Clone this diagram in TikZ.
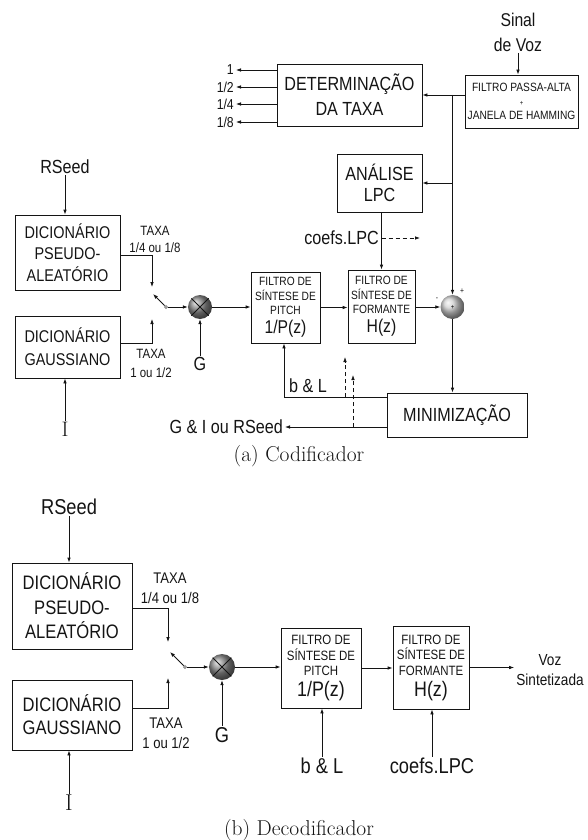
\documentclass[tikz,border=0pt]{standalone}
\usepackage{fontspec}
\usepackage{xcolor}
\usepackage{tikz}
\usetikzlibrary{arrows.meta,positioning,calc}
\newfontfamily\narrowsf{Liberation Sans}[FakeStretch=0.85]
\newcommand\nsz[2]{\narrowsf\fontsize{#1}{#2}\selectfont}
\definecolor{cLine}{HTML}{141414}
\definecolor{cMul}{HTML}{8A8A8A}
\definecolor{cSum}{HTML}{CFCFCF}
\definecolor{cDot}{HTML}{9A9A9A}
\tikzset{
  blk/.style   = {rectangle, draw=cLine, line width=0.8pt, align=center,
                  inner sep=0pt, text=cLine},
  lbl/.style   = {font=\nsz{19}{25}, inner sep=1pt, align=center, text=cLine},
  lblB/.style  = {lbl, font=\nsz{21.5}{27}},
  tx/.style    = {font=\nsz{13.5}{17}, inner sep=1pt, align=center, text=cLine},
  txB/.style   = {tx, font=\nsz{15.4}{20}},
  ilbl/.style  = {font=\fontsize{21}{23}\selectfont, inner sep=1pt, text=cLine},
  captxt/.style = {font=\fontsize{21.5}{24}\selectfont, inner sep=0pt, text=cLine},
  pm/.style    = {font=\nsz{8}{8}, inner sep=0pt, text=cLine},
  fl/.style    = {-{Latex[length=5pt,width=3.6pt]}, draw=cLine, line width=0.8pt},
  flb/.style   = {fl, dash pattern=on 4pt off 3pt},
  ln/.style    = {draw=cLine, line width=0.8pt},
  mul/.style   = {circle, minimum size=24pt, inner sep=0pt, shading=ball, ball color=cMul},
  sumb/.style  = {circle, minimum size=24pt, inner sep=0pt, shading=ball, ball color=cSum,
                  font=\nsz{7}{7}},
  swdot/.style = {circle, fill=cDot, draw=cDot, minimum size=3.5pt, inner sep=0pt},
}
\begin{document}
\begin{tikzpicture}[x=1pt,y=-1pt]
  \useasboundingbox (0,0) rectangle (587,840);

  % ---- (a) coder: rate and LPC analysis ----
  \node[lbl, font=\nsz{18.5}{25}] (sinal) at (518,32.5) {Sinal\\de Voz};
  \node[blk, minimum width=113pt, minimum height=53pt, font=\nsz{12}{14}] (filt) at (521.5,101.5)
    {FILTRO PASSA-ALTA\\{\fontsize{7}{8}\selectfont +}\\JANELA DE HAMMING};
  \node[blk, minimum width=145pt, minimum height=62pt, font=\nsz{19}{25}] (det) at (349.5,95)
    {DETERMINAÇÃO\\DA TAXA};
  \node[blk, minimum width=85pt, minimum height=58pt, font=\nsz{19}{21}] (ana) at (379.5,183)
    {ANÁLISE\\LPC};
  \coordinate (jn) at (452.5,95);

  \draw[fl] (sinal.south) -- (sinal.south |- filt.north);
  \draw[fl] (filt.west |- det.east) -- (det.east);
  \draw[fl] (jn |- ana.east) -- (ana.east);
  \foreach \yy/\rt [count=\i] in {70/1, 87/{1/2}, 104/{1/4}, 122/{1/8}} {
    \node[lbl, font=\nsz{14.4}{16}, inner sep=2pt, anchor=east] (rate\i) at (236,\yy) {\rt};
    \draw[fl] (det.west |- rate\i.east) -- (rate\i.east);
  }

  % ---- (a) coder: excitation ----
  \node[lbl] (rsC) at (65,167) {RSeed};
  \node[blk, minimum width=105pt, minimum height=75pt, font=\nsz{17}{21.5}] (pseC) at (67.5,252.5)
    {DICIONÁRIO\\PSEUDO-\\ALEATÓRIO};
  \node[blk, minimum width=105pt, minimum height=62pt, font=\nsz{17}{23}] (gauC) at (67.5,347)
    {DICIONÁRIO\\GAUSSIANO};
  \node[tx] (txPC) at (155,239.5) {TAXA\\1/4 ou 1/8};
  \node[tx, font=\nsz{13.5}{19}] (txGC) at (151,363.5) {TAXA\\1 ou 1/2};
  \node[swdot] (swC) at (166,307) {};
  \coordinate (levC) at (153,294);
  \coordinate (inPC) at (152,287);
  \coordinate (inGC) at (152,319);
  \node[mul] (mulC) at (200,307) {};
  \node[lbl] (gC) at (200,364) {G};
  \node[ilbl] (iC) at (65,429) {I};

  \draw[fl] (rsC.south) -- (rsC.south |- pseC.north);
  \draw[fl] ([yshift=-2.5pt]pseC.east) -| (inPC);
  \draw[fl] ([yshift=4pt]gauC.east) -| (inGC);
  \draw[fl] (swC) -- (levC);
  \draw[fl] (swC) -- (mulC);
  \draw[ln] (mulC.north west) -- (mulC.south east) (mulC.north east) -- (mulC.south west);
  \draw[fl] (gC.north) -- (mulC.south);
  \draw[fl] (iC.north) -- (iC.north |- gauC.south);

  % ---- (a) coder: synthesis filters and error ----
  \node[blk, minimum width=69pt, minimum height=71pt, font=\nsz{12}{14.5}] (pitC) at (285.5,307.5)
    {FILTRO DE\\SÍNTESE DE\\PITCH\\[4.5pt]{\nsz{18.5}{19}1/P(z)}};
  \node[blk, minimum width=67pt, minimum height=73pt, font=\nsz{12}{14.5}] (forC) at (381.5,306.5)
    {FILTRO DE\\SÍNTESE DE\\FORMANTE\\[4.5pt]{\nsz{18.5}{19}H(z)}};
  \node[sumb] (sum) at (452.5,307) {+};
  \node[pm] (plusS) at (462,291) {+};
  \node[pm] (minusS) at (437,299) {-};
  \node[blk, minimum width=140pt, minimum height=44pt, font=\nsz{19}{21}] (minz) at (457,415)
    {MINIMIZAÇÃO};
  \node[lbl, anchor=east] (coefC) at (380,238) {coefs.LPC};
  \node[lbl] (blabC) at (308,386) {b \& L};
  \node[lbl, inner sep=2pt, anchor=east] (giC) at (285,427) {G \& I ou RSeed};
  \coordinate (cfo) at (420,238);
  \coordinate (blC) at (284,397);
  \coordinate (d1) at (345,357);
  \coordinate (d2) at (353,375);

  \draw[fl] (mulC.east) -- (mulC.east -| pitC.west);
  \draw[fl] (pitC.east) -- (pitC.east -| forC.west);
  \draw[fl] (forC.east |- sum) -- (sum.west);
  \draw[fl] (jn) -- (sum.north);
  \draw[fl] (forC.north |- ana.south) -- (forC.north);
  \draw[flb] (forC.north |- coefC.east) -- (cfo);
  \draw[fl] (sum.south) -- (sum.south |- minz.north);
  \draw[fl] (minz.west |- blC) -- (blC) -- (blC |- pitC.south);
  \draw[flb] (d1 |- blC) -- (d1);
  \draw[fl] (minz.west |- giC.east) -- (giC.east);
  \draw[flb] (d2 |- giC.east) -- (d2);

  \node[captxt] (capA) at (299,456) {(a) Codificador};

  % ---- (b) decoder ----
  \node[lblB] (rsD) at (69,507) {RSeed};
  \node[blk, minimum width=120pt, minimum height=86pt, font=\nsz{19.5}{24.5}] (pseD) at (72,606)
    {DICIONÁRIO\\PSEUDO-\\ALEATÓRIO};
  \node[blk, minimum width=120pt, minimum height=70pt, font=\nsz{19.5}{23}] (gauD) at (72,715)
    {DICIONÁRIO\\GAUSSIANO};
  \node[txB] (txPD) at (170,588) {TAXA\\1/4 ou 1/8};
  \node[txB] (txGD) at (166,733) {TAXA\\1 ou 1/2};
  \node[swdot] (swD) at (185,667) {};
  \coordinate (levD) at (170,652);
  \coordinate (inPD) at (168,642);
  \coordinate (inGD) at (168,678);
  \node[mul, minimum size=26pt] (mulD) at (222,667) {};
  \node[lblB] (gD) at (222,735) {G};
  \node[ilbl, font=\fontsize{23}{25}\selectfont] (iD) at (69,803) {I};
  \node[blk, minimum width=80pt, minimum height=80pt, font=\nsz{13.5}{15.5}] (pitD) at (321,668)
    {FILTRO DE\\SÍNTESE DE\\PITCH\\[5.5pt]{\nsz{21}{22}1/P(z)}};
  \node[blk, minimum width=76pt, minimum height=83pt, font=\nsz{13.5}{15.5}] (forD) at (431,667.5)
    {FILTRO DE\\SÍNTESE DE\\FORMANTE\\[5.5pt]{\nsz{21}{22}H(z)}};
  \node[lbl, font=\nsz{16}{20}, inner sep=2pt] (voz) at (550,670) {Voz\\Sintetizada};
  \node[lblB] (blD) at (322,766) {b \& L};
  \node[lblB] (cfD) at (432,766) {coefs.LPC};

  \draw[fl] (rsD.south) -- (rsD.south |- pseD.north);
  \draw[fl] ([yshift=-2pt]pseD.east) -| (inPD);
  \draw[fl] ([yshift=7pt]gauD.east) -| (inGD);
  \draw[fl] (swD) -- (levD);
  \draw[fl] (swD) -- (mulD);
  \draw[ln] (mulD.north west) -- (mulD.south east) (mulD.north east) -- (mulD.south west);
  \draw[fl] (gD.north) -- (mulD.south);
  \draw[fl] (iD.north) -- (iD.north |- gauD.south);
  \draw[fl] (mulD.east) -- (mulD.east -| pitD.west);
  \draw[fl] (pitD.east) -- (pitD.east -| forD.west);
  \draw[fl] (forD.east) -- (forD.east -| voz.west);
  \draw[fl] (blD.north) -- (blD.north |- pitD.south);
  \draw[fl] (cfD.north) -- (cfD.north |- forD.south);

  \node[captxt] (capB) at (299,830) {(b) Decodificador};
\end{tikzpicture}
\end{document}
